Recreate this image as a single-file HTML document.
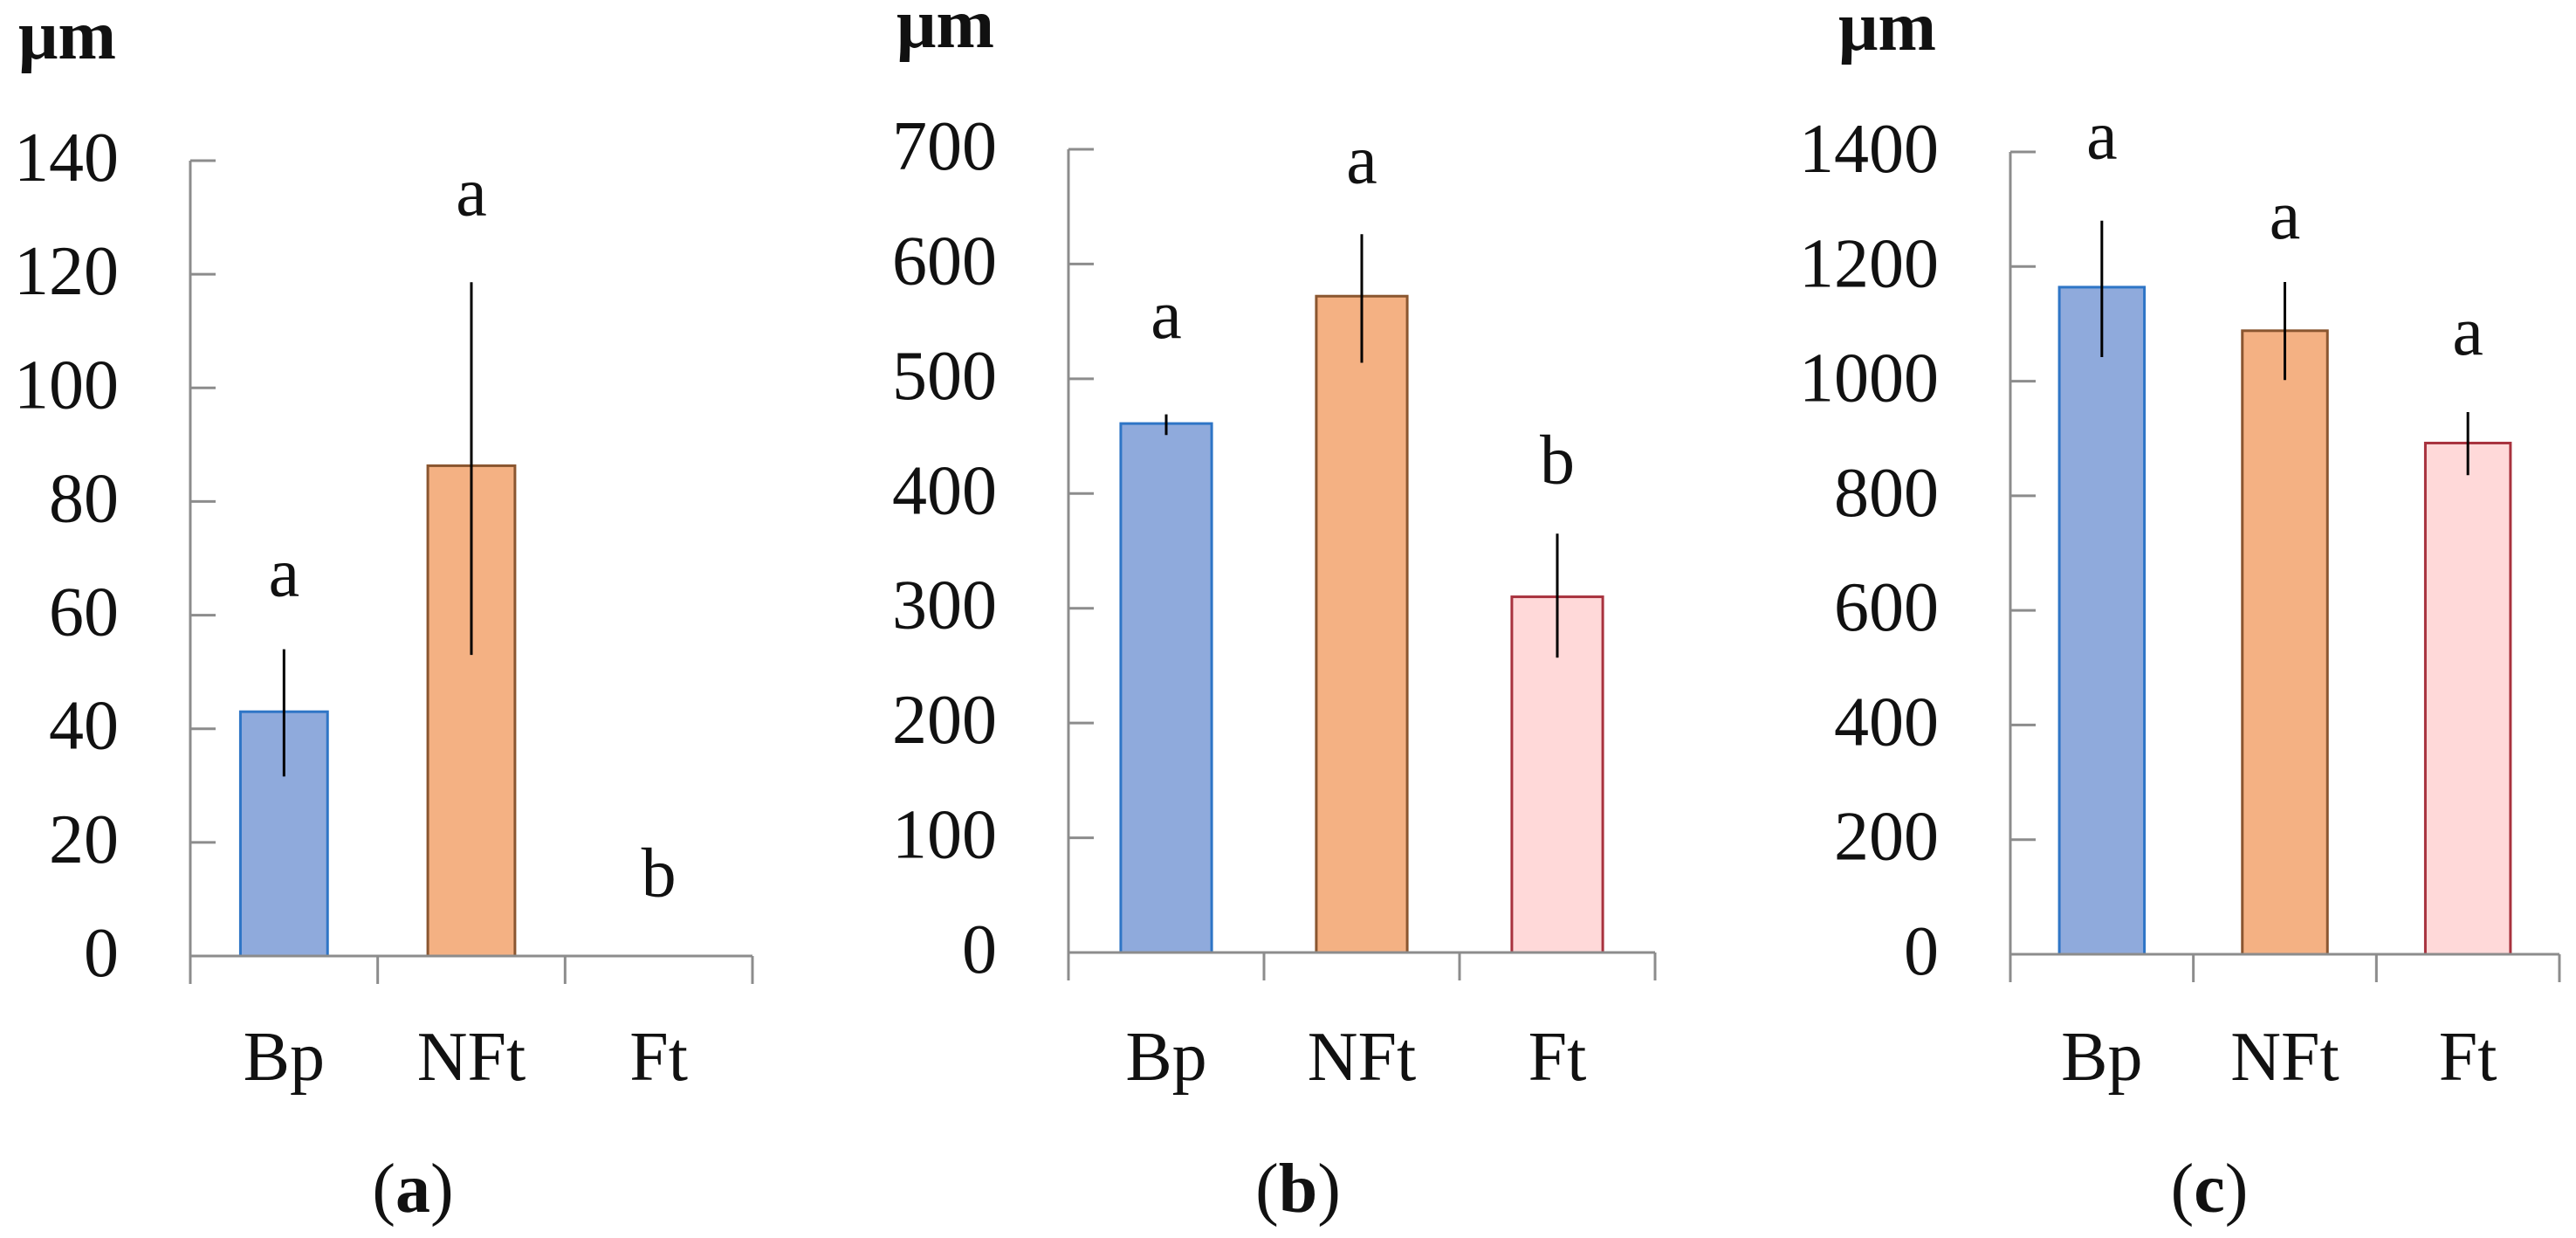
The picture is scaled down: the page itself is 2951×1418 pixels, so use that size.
<!DOCTYPE html>
<html><head><meta charset="utf-8"><style>
html,body{margin:0;padding:0;background:#fff;}
svg{display:block;font-family:"Liberation Serif",serif;}
</style></head><body>
<svg id="chart" width="2951" height="1418" viewBox="0 0 2951 1418" xmlns="http://www.w3.org/2000/svg"></svg>
<script>
const categories = ["Bp", "NFt", "Ft"];
const aValues = [43, 86.3, 0];
const aErrLow = [31.6, 53, 0];
const aErrHigh = [54, 118.6, 0];
const aLetters = ["a", "a", "b"];
const aLetterVals = [66.5, 133.5, 13.6];
const aTicks = [0, 20, 40, 60, 80, 100, 120, 140];
const bValues = [461, 572, 310];
const bErrLow = [451, 514, 257];
const bErrHigh = [469, 626, 365];
const bLetters = ["a", "a", "b"];
const bLetterVals = [551, 686, 424];
const bTicks = [0, 100, 200, 300, 400, 500, 600, 700];
const cValues = [1164, 1088, 892];
const cErrLow = [1042, 1002, 836];
const cErrHigh = [1280, 1173, 946];
const cLetters = ["a", "a", "a"];
const cLetterVals = [1419, 1280, 1077];
const cTicks = [0, 200, 400, 600, 800, 1000, 1200, 1400];

const NS = "http://www.w3.org/2000/svg";
const svg = document.getElementById("chart");
const fills = ["#8faadc", "#f4b183", "#ffd9d9"];
const strokes = ["#2e75c6", "#8a5630", "#a8323e"];

function mk(tag, attrs, parent) {
  const e = document.createElementNS(NS, tag);
  for (const k in attrs) e.setAttribute(k, attrs[k]);
  (parent || svg).appendChild(e);
  return e;
}

const panels = [
  {id: "a", x0: 218, x1: 862, yTop: 184, yZero: 1095, unitY: 67, vals: aValues, lo: aErrLow, hi: aErrHigh, letters: aLetters, lv: aLetterVals, ticks: aTicks, capX: 473},
  {id: "b", x0: 1224, x1: 1896, yTop: 171, yZero: 1091, unitY: 54, vals: bValues, lo: bErrLow, hi: bErrHigh, letters: bLetters, lv: bLetterVals, ticks: bTicks, capX: 1487},
  {id: "c", x0: 2303, x1: 2932, yTop: 174, yZero: 1093, unitY: 57, vals: cValues, lo: cErrLow, hi: cErrHigh, letters: cLetters, lv: cLetterVals, ticks: cTicks, capX: 2531}
];

panels.forEach(p => {
  const g = mk("g", {});
  
  
  const maxT = p.ticks[p.ticks.length - 1];
  const y = v => p.yZero - (v / maxT) * (p.yZero - p.yTop);
  const cw = (p.x1 - p.x0) / categories.length;
  const xc = i => p.x0 + cw * (i + 0.5);
  const bw = cw * 0.465;

  const unit = mk("text", {x: p.x0 - 197, y: p.unitY, "font-size": 80, "font-weight": "bold", fill: "#111"}, g);
  unit.textContent = "μm";
  
  

  // bars
  p.vals.forEach((v, i) => {
    if (v > 0) {
      const r = mk("rect", {x: xc(i) - bw / 2, y: y(v), width: bw, height: y(0) - y(v), fill: fills[i], stroke: strokes[i], "stroke-width": 3}, g);
      
      
      const e = mk("line", {x1: xc(i), x2: xc(i), y1: y(p.hi[i]), y2: y(p.lo[i]), stroke: "#000", "stroke-width": 3}, g);
      
      
    }
    const t = mk("text", {x: xc(i), y: y(p.lv[i]) + 20, "font-size": 80, "text-anchor": "middle", fill: "#111"}, g);
    t.textContent = p.letters[i];
    
    
    const c = mk("text", {x: xc(i), y: 1237, "font-size": 80, "text-anchor": "middle", fill: "#111"}, g);
    c.textContent = categories[i];
    
    
  });

  // axes
  const ya = mk("line", {x1: p.x0, x2: p.x0, y1: y(maxT), y2: y(0) + 32, stroke: "#8c8c8c", "stroke-width": 3}, g);
  
  
  const xa = mk("line", {x1: p.x0, x2: p.x1, y1: y(0), y2: y(0), stroke: "#8c8c8c", "stroke-width": 3}, g);
  
  
  for (let i = 1; i <= categories.length; i++) {
    const tk = mk("line", {x1: p.x0 + cw * i, x2: p.x0 + cw * i, y1: y(0), y2: y(0) + 32, stroke: "#8c8c8c", "stroke-width": 3}, g);
    
    
  }
  p.ticks.forEach(t => {
    if (t > 0) {
      const tk = mk("line", {x1: p.x0, x2: p.x0 + 29, y1: y(t), y2: y(t), stroke: "#8c8c8c", "stroke-width": 3}, g);
      
      
    }
    const lb = mk("text", {x: p.x0 - 82, y: y(t) + 23, "font-size": 80, "text-anchor": "end", fill: "#111"}, g);
    lb.textContent = t;
    
    
  });

  const cap = mk("text", {x: p.capX, y: 1388, "font-size": 80, "text-anchor": "middle", fill: "#111"}, g);
  
  
  const t1 = mk("tspan", {}, cap); t1.textContent = "(";
  const t2 = mk("tspan", {"font-weight": "bold"}, cap); t2.textContent = p.id;
  const t3 = mk("tspan", {}, cap); t3.textContent = ")";
});
</script>
</body></html>
